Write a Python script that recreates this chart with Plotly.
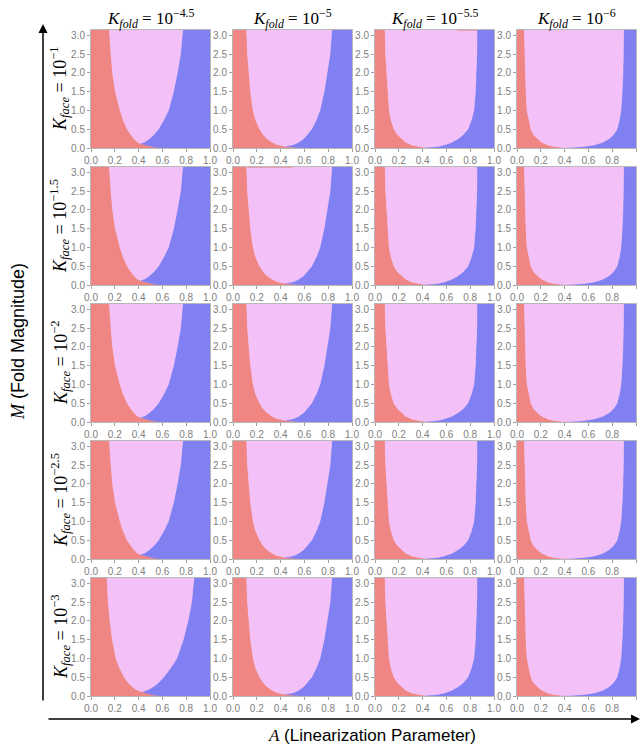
import plotly.graph_objects as go

# ---------------- data ----------------
col_exps = ["−4.5", "−5", "−5.5", "−6"]          # K_fold = 10^x
row_exps = ["−1", "−1.5", "−2", "−2.5", "−3"]    # K_face = 10^x
x_tick_vals = [0.0, 0.2, 0.4, 0.6, 0.8, 1.0]
x_tick_text = ["0.0", "0.2", "0.4", "0.6", "0.8", "1.0"]
y_tick_vals = [0.0, 0.5, 1.0, 1.5, 2.0, 2.5, 3.0]
y_tick_text = ["0.0", "0.5", "1.0", "1.5", "2.0", "2.5", "3.0"]
M_max = 3.1416

# boundary red|pink (left) and pink|blue (right), top to bottom, per column
left_M = [
    [3.1416, 2.5, 2.0, 1.5, 1.0, 0.75, 0.5, 0.35, 0.25, 0.17],
    [3.1416, 2.5, 2.0, 1.5, 1.0, 0.75, 0.5, 0.35, 0.25, 0.15, 0.09],
    [3.1416, 2.5, 2.0, 1.5, 1.0, 0.75, 0.5, 0.35, 0.25, 0.15, 0.08, 0.04],
    [3.1416, 2.5, 2.0, 1.5, 1.0, 0.75, 0.5, 0.35, 0.25, 0.15, 0.08, 0.04],
]
left_A = [
    [0.155, 0.168, 0.182, 0.205, 0.245, 0.270, 0.305, 0.335, 0.360, 0.385],
    [0.115, 0.122, 0.133, 0.148, 0.170, 0.190, 0.225, 0.255, 0.285, 0.330, 0.370],
    [0.085, 0.090, 0.100, 0.108, 0.120, 0.135, 0.160, 0.190, 0.220, 0.260, 0.310, 0.360],
    [0.062, 0.065, 0.070, 0.076, 0.085, 0.100, 0.118, 0.140, 0.170, 0.210, 0.260, 0.310],
]
right_A = [
    [0.770, 0.752, 0.725, 0.693, 0.650, 0.612, 0.566, 0.527, 0.492, 0.457],
    [0.830, 0.815, 0.790, 0.765, 0.730, 0.700, 0.660, 0.625, 0.595, 0.550, 0.510],
    [0.856, 0.855, 0.850, 0.843, 0.830, 0.810, 0.780, 0.740, 0.700, 0.645, 0.580, 0.520],
    [0.896, 0.895, 0.890, 0.883, 0.873, 0.860, 0.840, 0.810, 0.775, 0.720, 0.645, 0.560],
]
# the bottom-left panel (K_face=10^-3, K_fold=10^-4.5) has a wider U
left_A_r5c1 = [0.135, 0.145, 0.160, 0.180, 0.210, 0.240, 0.280, 0.315, 0.345, 0.380]
right_A_r5c1 = [0.865, 0.845, 0.815, 0.775, 0.720, 0.670, 0.610, 0.565, 0.525, 0.480]

# point where the three regions meet
meet_A = [0.415, 0.435, 0.420, 0.410]
meet_M = [0.120, 0.045, 0.015, 0.005]
# red|blue boundary below the meeting point (from meet down to M=0)
tail_A = [[0.47, 0.52, 0.59], [0.49, 0.57], [0.50], [0.46]]
tail_M = [[0.07, 0.03, 0.0], [0.02, 0.0], [0.0], [0.0]]

# thin red slivers along the top edge: (row, col, A from, A to)
top_strips = [(0, 2, 0.69, 0.856), (1, 1, 0.12, 0.50)]
strip_M = 3.12

RED = "#EF8683"
PINK = "#F3C1F8"
BLUE = "#8080F2"

# ---------------- layout geometry ----------------
W, H = 641, 746
col_left = [91, 233, 375, 517]
row_top = [30, 167, 304, 441, 578]
pw, ph = 119, 118


def px_x(x):
    return x / W


def px_y(y):
    return 1 - y / H


fig = go.Figure()
layout = dict(
    width=W, height=H, margin=dict(l=0, r=0, t=0, b=0, pad=0, autoexpand=False),
    paper_bgcolor="white", plot_bgcolor="white", showlegend=False,
)

annotations = []
idx = 0
for r in range(len(row_exps)):
    for c in range(len(col_exps)):
        idx += 1
        xa = "x" if idx == 1 else f"x{idx}"
        ya = "y" if idx == 1 else f"y{idx}"
        lM = left_M[c]
        if (r, c) == (4, 0):
            lA, rA = left_A_r5c1, right_A_r5c1
            mA, mM = 0.43, 0.11
        else:
            lA, rA = left_A[c], right_A[c]
            mA, mM = meet_A[c], meet_M[c]
        up_A = list(reversed(lA))
        up_M = list(reversed(lM))
        # red region
        rx = [0, tail_A[c][-1]] + list(reversed(tail_A[c][:-1])) + [mA] + up_A + [0]
        ry = [0, 0] + list(reversed(tail_M[c][:-1])) + [mM] + up_M + [M_max]
        # blue region
        bx = [tail_A[c][-1], 1, 1] + rA + [mA] + tail_A[c]
        by = [0, 0, M_max] + lM + [mM] + tail_M[c]
        # pink region
        kx = [mA] + up_A + rA + [mA]
        ky = [mM] + up_M + lM + [mM]
        for xs, ys, col in ((rx, ry, RED), (bx, by, BLUE), (kx, ky, PINK)):
            fig.add_trace(go.Scatter(
                x=xs, y=ys, mode="lines", fill="toself", fillcolor=col,
                line=dict(color=col, width=0.6), hoverinfo="skip",
                xaxis=xa, yaxis=ya,
            ))
        for (sr, sc, a0, a1) in top_strips:
            if (sr, sc) == (r, c):
                fig.add_trace(go.Scatter(
                    x=[a0, a1, a1, a0], y=[strip_M, strip_M, M_max, M_max],
                    mode="lines", fill="toself", fillcolor="rgba(239,134,131,0.8)",
                    line=dict(width=0), hoverinfo="skip",
                    xaxis=xa, yaxis=ya,
                ))
        x0 = col_left[c]
        y0 = row_top[r]
        axis_common = dict(
            showgrid=False, zeroline=False, showline=True, mirror=True,
            linecolor="#b8b8b8", linewidth=1, ticks="outside", ticklen=3,
            tickcolor="#a0a0a0", tickwidth=1,
            tickfont=dict(family="Liberation Sans, Arial", size=10, color="#808080"),
            fixedrange=True, automargin=False,
        )
        layout[f"xaxis{idx}"] = dict(
            axis_common, domain=[px_x(x0), px_x(x0 + pw)], range=[0, 1],
            tickvals=x_tick_vals, ticktext=x_tick_text, anchor=ya,
        )
        layout[f"yaxis{idx}"] = dict(
            axis_common, domain=[px_y(y0 + ph), px_y(y0)], range=[0, M_max],
            tickvals=y_tick_vals, ticktext=y_tick_text, anchor=xa,
        )

# column titles
for c, e in enumerate(col_exps):
    annotations.append(dict(
        xref="paper", yref="paper", x=px_x(col_left[c] + pw / 2), y=px_y(18),
        text=f"<i>K</i><sub><i>fold</i></sub> = 10<sup>{e}</sup>",
        showarrow=False, xanchor="center", yanchor="middle",
        font=dict(family="Liberation Serif, Times New Roman", size=17, color="black"),
    ))
# row titles
for r, e in enumerate(row_exps):
    annotations.append(dict(
        xref="paper", yref="paper", x=px_x(60), y=px_y(row_top[r] + ph / 2),
        text=f"<i>K</i><sub><i>face</i></sub> = 10<sup>{e}</sup>",
        showarrow=False, xanchor="center", yanchor="middle", textangle=-90,
        font=dict(family="Liberation Serif, Times New Roman", size=18, color="black"),
    ))
# axis titles
annotations.append(dict(
    xref="paper", yref="paper", x=px_x(18), y=px_y(342),
    text="<span style='font-family:Liberation Serif'><i>M</i></span> (Fold Magnitude)",
    showarrow=False, xanchor="center", yanchor="middle", textangle=-90,
    font=dict(family="Liberation Sans, Arial", size=18, color="black"),
))
annotations.append(dict(
    xref="paper", yref="paper", x=px_x(372), y=px_y(735),
    text="<span style='font-family:Liberation Serif'><i>A</i></span> (Linearization Parameter)",
    showarrow=False, xanchor="center", yanchor="middle",
    font=dict(family="Liberation Sans, Arial", size=17, color="black"),
))
# arrows (tail offsets in pixels)
annotations.append(dict(
    xref="paper", yref="paper", x=px_x(43), y=px_y(24),
    axref="pixel", ayref="pixel", ax=0, ay=702 - 24,
    text="", showarrow=True, arrowhead=2, arrowsize=1.2, arrowwidth=1.5, arrowcolor="black",
))
annotations.append(dict(
    xref="paper", yref="paper", x=px_x(640), y=px_y(719),
    axref="pixel", ayref="pixel", ax=47 - 640, ay=0,
    text="", showarrow=True, arrowhead=2, arrowsize=1.2, arrowwidth=1.5, arrowcolor="black",
))

layout["annotations"] = annotations
fig.update_layout(**layout)
fig.write_html("out.html", config={"displayModeBar": False},
               post_script="document.body.style.margin='0';")
